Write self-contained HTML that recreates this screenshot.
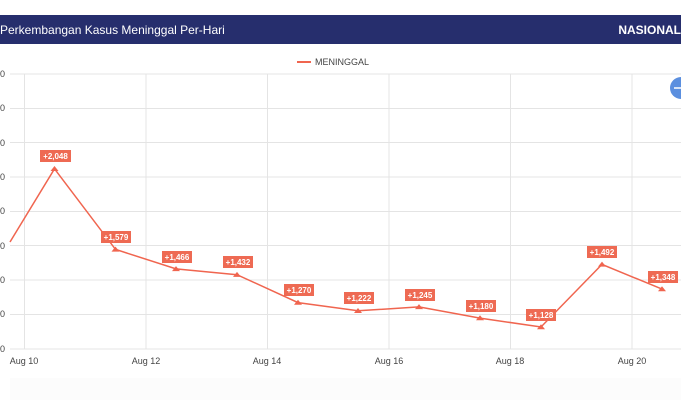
<!DOCTYPE html>
<html><head><style>
body{margin:0;width:681px;height:400px;background:#fff;overflow:hidden;font-family:"Liberation Sans",sans-serif}
</style></head><body>
<svg width="681" height="400" xmlns="http://www.w3.org/2000/svg" font-family="Liberation Sans, sans-serif">
<rect x="0" y="15" width="681" height="29" fill="#262e6d"/>
<text x="0" y="34" fill="#fff" font-size="12">Perkembangan Kasus Meninggal Per-Hari</text>
<text x="681" y="34" fill="#fff" font-size="12" font-weight="bold" text-anchor="end">NASIONAL</text>
<line x1="297" y1="62" x2="311" y2="62" stroke="#f0654f" stroke-width="2"/>
<text x="315" y="65" fill="#444" font-size="9">MENINGGAL</text>
<g stroke="#e4e4e4" stroke-width="1">
<line x1="10" y1="74" x2="681" y2="74"/><line x1="10" y1="108.5" x2="681" y2="108.5"/>
<line x1="10" y1="142.5" x2="681" y2="142.5"/><line x1="10" y1="177" x2="681" y2="177"/>
<line x1="10" y1="211.5" x2="681" y2="211.5"/><line x1="10" y1="245.5" x2="681" y2="245.5"/>
<line x1="10" y1="280" x2="681" y2="280"/><line x1="10" y1="314.5" x2="681" y2="314.5"/>
<line x1="10" y1="349" x2="681" y2="349"/>
<line x1="24.5" y1="74" x2="24.5" y2="349"/><line x1="146" y1="74" x2="146" y2="349"/>
<line x1="267.5" y1="74" x2="267.5" y2="349"/><line x1="389" y1="74" x2="389" y2="349"/>
<line x1="510.5" y1="74" x2="510.5" y2="349"/><line x1="632" y1="74" x2="632" y2="349"/>
</g>
<g fill="#444" font-size="9">
<text x="0" y="77">0</text><text x="0" y="111">0</text><text x="0" y="146">0</text><text x="0" y="180">0</text>
<text x="0" y="214">0</text><text x="0" y="249">0</text><text x="0" y="283">0</text><text x="0" y="317">0</text><text x="0" y="352">0</text>
</g>
<g fill="#444" font-size="9" text-anchor="middle">
<text x="24" y="364">Aug 10</text><text x="146" y="364">Aug 12</text><text x="267" y="364">Aug 14</text>
<text x="389" y="364">Aug 16</text><text x="510" y="364">Aug 18</text><text x="632" y="364">Aug 20</text>
</g>
<rect x="10" y="378" width="671" height="22" fill="#fcfcfc"/>
<circle cx="681" cy="88" r="11" fill="#5b8fdf"/>
<line x1="674" y1="88" x2="681" y2="88" stroke="#fff" stroke-width="1.5"/>
<polyline fill="none" stroke="#f0654f" stroke-width="1.5" points="10,242 54.5,168.8 115.5,249.4 176,268.9 237,274.7 298,302.6 358,310.8 419,306.9 480,318.1 541,327 602,264.4 662,289.1"/>
<g fill="#f0654f">
<path d="M54.5,166l-4,5h8z"/><path d="M115.5,246.6l-4,5h8z"/><path d="M176,266.1l-4,5h8z"/>
<path d="M237,271.9l-4,5h8z"/><path d="M298,299.8l-4,5h8z"/><path d="M358,308l-4,5h8z"/>
<path d="M419,304.1l-4,5h8z"/><path d="M480,315.3l-4,5h8z"/><path d="M541,324.2l-4,5h8z"/>
<path d="M602,261.6l-4,5h8z"/><path d="M662,286.3l-4,5h8z"/>
</g>
<g font-size="8" font-weight="bold" fill="#fff" text-anchor="middle">
<rect x="40" y="150" width="31" height="12" fill="#ee6a53"/><text x="55.5" y="159">+2,048</text>
<rect x="101" y="231" width="30" height="12" fill="#ee6a53"/><text x="116" y="240">+1,579</text>
<rect x="162" y="251" width="30" height="12" fill="#ee6a53"/><text x="177" y="260">+1,466</text>
<rect x="223" y="256" width="30" height="12" fill="#ee6a53"/><text x="238" y="265">+1,432</text>
<rect x="284" y="284" width="30" height="12" fill="#ee6a53"/><text x="299" y="293">+1,270</text>
<rect x="344" y="292" width="30" height="12" fill="#ee6a53"/><text x="359" y="301">+1,222</text>
<rect x="405" y="289" width="30" height="12" fill="#ee6a53"/><text x="420" y="298">+1,245</text>
<rect x="466" y="300" width="30" height="12" fill="#ee6a53"/><text x="481" y="309">+1,180</text>
<rect x="526" y="309" width="30" height="12" fill="#ee6a53"/><text x="541" y="318">+1,128</text>
<rect x="587" y="246" width="30" height="12" fill="#ee6a53"/><text x="602" y="255">+1,492</text>
<rect x="648" y="271" width="30" height="12" fill="#ee6a53"/><text x="663" y="280">+1,348</text>
</g>
</svg>
</body></html>
